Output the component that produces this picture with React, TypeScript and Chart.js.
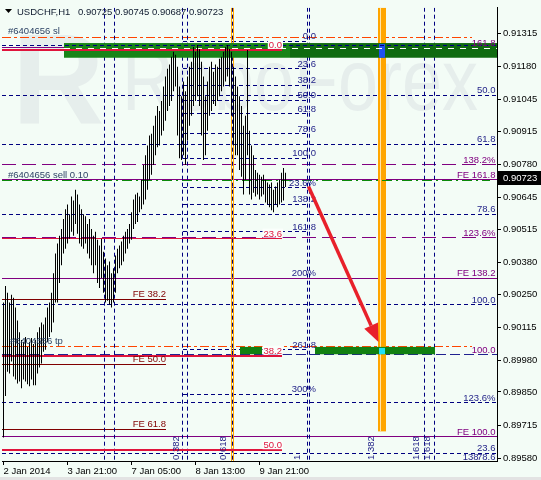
import React, { useEffect, useRef } from "react";
import { Chart, registerables } from "chart.js";

Chart.register(...registerables);

// ---------------- data ----------------
const xTickIndex = [0, 32, 64, 96, 128];
const xTickLabels = ["2 Jan 2014", "3 Jan 21:00", "7 Jan 05:00", "8 Jan 13:00", "9 Jan 21:00"];
const yTickValues = [0.91315, 0.9118, 0.91045, 0.90915, 0.9078, 0.90645, 0.90515, 0.9038, 0.9025, 0.90115, 0.8998, 0.8985, 0.89715, 0.8958];

const barHigh = [
  0.90215, 0.90283, 0.90255, 0.90215, 0.90247, 0.90235, 0.90195, 0.90142, 0.90094, 0.90062,
  0.90054, 0.90074, 0.90034, 0.90054, 0.9007, 0.90046, 0.90062, 0.90094, 0.90114, 0.90134,
  0.90126, 0.90154, 0.90195, 0.90215, 0.90255, 0.90335, 0.90415, 0.90456, 0.90488, 0.90516,
  0.90556, 0.90596, 0.90616, 0.90576, 0.90648, 0.90632, 0.90676, 0.90656, 0.90616, 0.90596,
  0.90576, 0.90568, 0.90536, 0.90556, 0.90516, 0.90488, 0.90504, 0.90472, 0.90448, 0.90476,
  0.90423, 0.90395, 0.90367, 0.90383, 0.90335, 0.90355, 0.90407, 0.90435, 0.90448, 0.90464,
  0.90488, 0.90504, 0.90516, 0.90536, 0.90584, 0.90636, 0.90656, 0.90664, 0.90648, 0.90717,
  0.90777, 0.90817, 0.90857, 0.90897, 0.90905, 0.90937, 0.90978, 0.91018, 0.90998, 0.91038,
  0.91098, 0.91138, 0.9117, 0.91187, 0.91219, 0.91239, 0.91227, 0.91178, 0.91098, 0.91058,
  0.91118, 0.91078, 0.91138, 0.91178, 0.91199, 0.91259, 0.91239, 0.91267, 0.91251, 0.91199,
  0.91138, 0.91058, 0.91118, 0.91178, 0.91199, 0.91158, 0.91187, 0.91178, 0.91211, 0.91219,
  0.91239, 0.91259, 0.91267, 0.91251, 0.91239, 0.91178, 0.91138, 0.91098, 0.91058, 0.91018,
  0.90937, 0.90978, 0.91247, 0.90917, 0.90857, 0.90817, 0.90757, 0.90745, 0.90737, 0.90729,
  0.90737, 0.90717, 0.90705, 0.90697, 0.90705, 0.90676, 0.90689, 0.90705, 0.90717, 0.90745,
  0.90765, 0.90745,
];
const barLow = [
  0.89664, 0.89833, 0.89933, 0.89925, 0.89974, 0.89913, 0.89901, 0.89885, 0.89893, 0.89865,
  0.89901, 0.89893, 0.89881, 0.89873, 0.89901, 0.89877, 0.89877, 0.89925, 0.8995, 0.89966,
  0.90014, 0.90022, 0.90054, 0.90074, 0.90094, 0.90134, 0.90215, 0.90215, 0.90295, 0.90367,
  0.90415, 0.90435, 0.90456, 0.90476, 0.90504, 0.90488, 0.90536, 0.90496, 0.90456, 0.90444,
  0.90435, 0.90456, 0.90415, 0.90395, 0.90367, 0.90335, 0.90367, 0.90295, 0.90275, 0.90315,
  0.90255, 0.90215, 0.90223, 0.90207, 0.90195, 0.90215, 0.90255, 0.90335, 0.90355, 0.90367,
  0.90383, 0.90415, 0.90435, 0.90456, 0.90472, 0.90516, 0.90536, 0.90544, 0.90584, 0.90596,
  0.90616, 0.90636, 0.90676, 0.90717, 0.90737, 0.90777, 0.90817, 0.90849, 0.90857, 0.90897,
  0.90917, 0.90958, 0.90998, 0.91018, 0.91038, 0.91078, 0.91098, 0.90897, 0.90805, 0.90797,
  0.90817, 0.90777, 0.90877, 0.90937, 0.90978, 0.91018, 0.91038, 0.91058, 0.91018, 0.90897,
  0.90797, 0.90817, 0.90917, 0.90978, 0.90998, 0.91026, 0.91018, 0.91038, 0.91058, 0.91078,
  0.91098, 0.91118, 0.91138, 0.91098, 0.90978, 0.90857, 0.90817, 0.90817, 0.90757, 0.90729,
  0.90656, 0.90717, 0.90817, 0.90656, 0.90636, 0.90664, 0.90648, 0.90656, 0.90636, 0.90648,
  0.90656, 0.90624, 0.90616, 0.90604, 0.90592, 0.90584, 0.90616, 0.90604, 0.90616, 0.90624,
  0.90632, 0.90687,
];

const symbolTitle = "USDCHF,H1";
const quoteTitle = "0.90725 0.90745 0.90687 0.90723";
const lastPrice = 0.90723;

// order lines: sl, sell, tp
const orderPrices = [0.91299, 0.90713, 0.90034];
const orderTexts = ["#6404656 sl", "#6404656 sell 0.10", "#6404656 tp"];

// full-width dotted levels (right fibo)
const dottedLevels = [0.91267, 0.91062, 0.90861, 0.90576, 0.90207, 0.89805, 0.896];
const dottedTexts = ["", "50.0", "61.8", "78.6", "100.0", "123.6%", "23.6"];

// left fibo (dotted, limited span)
const fiboLevels = [0.91283, 0.9117, 0.91102, 0.91042, 0.90986, 0.90905, 0.90805, 0.90685, 0.90616, 0.90504, 0.90315, 0.90022, 0.89841];
const fiboTexts = ["0.0", "23.6", "38.2", "50.0", "61.8", "78.6", "100.0", "23.6%", "138.2", "161.8", "200%", "261.8", "300%"];

// purple expansion
const purpleSolidLevels = [0.91255, 0.90717, 0.90315, 0.89668];
const purpleSolidTexts = ["161.8", "FE 161.8", "FE 138.2", "FE 100.0"];
const purpleDashLevels = [0.90777, 0.9048];
const purpleDashTexts = ["138.2%", "123.6%"];
const navyDashLevels = [0.90002];
const navyDashTexts = ["100.0"];

// maroon expansion
const maroonLevels = [0.90227, 0.89962, 0.89696];
const maroonTexts = ["FE 38.2", "FE 50.0", "FE 61.8"];

// crimson retracement
const crimsonLevels = [0.91247, 0.90476, 0.89998, 0.89612];
const crimsonTexts = ["0.0", "23.6", "38.2", "50.0"];

// time zones (bar index)
const timeLineBars = [50.5, 55.5, 89.5, 92, 114.5, 152, 153, 210.5, 215.5];
const orangeLineBars = [114, 115];
const orangeBandBar = 189.5;
const orangeBandLow = 0.89689;
const timeZoneBars = [86.25, 110, 147, 184, 206.5, 212];
const timeZoneTexts = ["0.382", "0.618", "1", "1.382", "1.618", "1.618"];

// zones
const topZone = [0.91275, 0.91215];
const topZoneBars = [30.25, 143.25, 247];
const bottomZone = [0.90034, 0.90004];
const bottomZoneBars = [[118.25, 129.25], [155.75, 215.75]];

// arrow
const arrowFrom = [152.5, 0.90689];
const arrowTo = [187.5, 0.90054];

const cornerTexts = ["138", "78.6"];
const cornerLevel = 0.89572;

// ---------------- styles ----------------
const FONT = "'Liberation Sans', Arial, sans-serif";
const BG = "#F3FCF6";
const NAVY = "#000080";
const NAVY_TXT = "#1E1E86";
const PURPLE = "#800080";
const MAROON = "#800000";
const CRIMSON = "#E0143C";
const ORANGERED = "#FF4500";
const ORANGE = "#FFA500";
const RED = "#E8202A";
const LABEL = "#2E4466";

function hLine(ctx: any, x1: number, x2: number, y: number, color: string, w: number, dash: number[]) {
  const yy = w % 2 === 1 ? Math.round(y - 0.5) + 0.5 : Math.round(y);
  ctx.beginPath();
  ctx.setLineDash(dash);
  ctx.strokeStyle = color;
  ctx.lineWidth = w;
  ctx.moveTo(x1, yy);
  ctx.lineTo(x2, yy);
  ctx.stroke();
}
function vLine(ctx: any, x: number, y1: number, y2: number, color: string, w: number, dash: number[]) {
  const xx = Math.round(x - 0.5) + 0.5;
  ctx.beginPath();
  ctx.setLineDash(dash);
  ctx.strokeStyle = color;
  ctx.lineWidth = w;
  ctx.moveTo(xx, y1);
  ctx.lineTo(xx, y2);
  ctx.stroke();
}

const overlay = {
  id: "overlay",
  beforeDraw(chart: any) {
    const { ctx, width, height } = chart;
    ctx.save();
    ctx.fillStyle = BG;
    ctx.fillRect(0, 0, width, height);
    ctx.fillStyle = "#E3E3E3";
    ctx.fillRect(0, 477, width, 3);
    ctx.restore();
  },
  beforeDatasetsDraw(chart: any) {
    const { ctx, chartArea: a, scales } = chart;
    const X = (i: number) => scales.x.getPixelForValue(i);
    const Y = (v: number) => scales.y.getPixelForValue(v);
    ctx.save();
    ctx.beginPath();
    ctx.rect(a.left, a.top, a.right - a.left, a.bottom - a.top);
    ctx.clip();

    // watermark
    ctx.fillStyle = "#E6EEEC";
    ctx.textBaseline = "alphabetic";
    ctx.textAlign = "left";
    ctx.font = `bold 128px ${FONT}`;
    ctx.fillText("R", 12, 124);
    ctx.font = `88px ${FONT}`;
    const wm = "RoboForex";
    const w = ctx.measureText(wm).width;
    ctx.save();
    ctx.translate(122, 110);
    ctx.scale(356 / w, 1);
    ctx.fillText(wm, 0, 0);
    ctx.restore();

    // full width dotted levels
    dottedLevels.forEach((v) => hLine(ctx, a.left, a.right, Y(v), NAVY, 1, [4, 3]));
    // left fibo
    fiboLevels.forEach((v) => hLine(ctx, X(89.75), X(152.25), Y(v), NAVY, 1, [4, 3]));
    // purple & navy long dash
    purpleSolidLevels.forEach((v) => hLine(ctx, a.left, a.right, Y(v), PURPLE, 1, []));
    purpleDashLevels.forEach((v) => hLine(ctx, a.left, a.right, Y(v), PURPLE, 1, [14, 6]));
    navyDashLevels.forEach((v) => hLine(ctx, a.left, a.right, Y(v), "#202090", 1, [10, 4]));
    // maroon
    maroonLevels.forEach((v) => hLine(ctx, a.left, X(81.25), Y(v), MAROON, 1, []));
    // SL / TP
    hLine(ctx, a.left, X(234.25), Y(orderPrices[0]), ORANGERED, 1, [9, 3, 3, 3]);
    hLine(ctx, a.left, X(234.25), Y(orderPrices[2]), ORANGERED, 1, [9, 3, 3, 3]);

    // vertical time lines
    timeLineBars.forEach((b) => vLine(ctx, X(b), a.top, a.bottom, NAVY, 1, [4, 3]));
    orangeLineBars.forEach((b) => vLine(ctx, X(b), a.top, a.bottom, ORANGE, 1, []));
    const oc = Math.floor(X(orangeBandBar));
    const oBottom = Y(orangeBandLow);
    ctx.fillStyle = ORANGE;
    ctx.fillRect(oc - 4, a.top, 8, oBottom - a.top);
    ctx.fillStyle = "#FFE3A8";
    ctx.fillRect(oc - 2, a.top, 1, oBottom - a.top);

    // zones
    const tz1 = Y(topZone[0]), tz2 = Y(topZone[1]);
    ctx.fillStyle = "#188418";
    ctx.fillRect(X(topZoneBars[0]), tz1, X(topZoneBars[1]) - X(topZoneBars[0]), tz2 - tz1);
    ctx.fillStyle = "#0F6A10";
    ctx.fillRect(X(topZoneBars[1]), tz1, X(topZoneBars[2]) - X(topZoneBars[1]), tz2 - tz1);
    const bz1 = Y(bottomZone[0]), bz2 = Y(bottomZone[1]);
    ctx.fillStyle = "#118011";
    bottomZoneBars.forEach(([s, e]) => ctx.fillRect(X(s), bz1, X(e) - X(s), bz2 - bz1));
    ctx.fillStyle = "#2050F0";
    ctx.fillRect(oc - 3, tz1 + 1, 6, tz2 - tz1 - 1);
    ctx.fillStyle = "#20E0F8";
    ctx.fillRect(oc - 3, bz1 + 1, 6, bz2 - bz1 - 1);

    // lines over top zone
    hLine(ctx, a.left, a.right, Y(dottedLevels[0]), NAVY, 1, [4, 3]);
    hLine(ctx, X(topZoneBars[0]), a.right, (tz1 + tz2) / 2 - 1.5, "#FFFFFF", 1, [6, 6]);

    // crimson retracement
    crimsonLevels.forEach((v, k) => hLine(ctx, a.left, X(139.25), Y(v), CRIMSON, k === 1 ? 1 : 2, []));
    // sell order line
    hLine(ctx, a.left, X(243.25), Y(orderPrices[1]), "#0A8A0A", 1, [10, 4, 2, 4]);
    ctx.restore();
  },
  afterDatasetsDraw(chart: any) {
    const { ctx, chartArea: a, scales } = chart;
    const X = (i: number) => scales.x.getPixelForValue(i);
    const Y = (v: number) => scales.y.getPixelForValue(v);
    ctx.save();
    ctx.setLineDash([]);
    ctx.font = `9.5px ${FONT}`;
    ctx.textBaseline = "alphabetic";

    // right-aligned level labels
    ctx.textAlign = "right";
    ctx.fillStyle = NAVY_TXT;
    fiboLevels.forEach((v, k) => ctx.fillText(fiboTexts[k], X(156.25), Y(v) - 2));
    dottedLevels.forEach((v, k) => dottedTexts[k] && ctx.fillText(dottedTexts[k], X(246), Y(v) - 2));
    ctx.fillText(cornerTexts[1], X(246), Y(cornerLevel));
    ctx.fillText(cornerTexts[0], X(237.5), Y(cornerLevel));
    ctx.fillStyle = PURPLE;
    purpleSolidLevels.forEach((v, k) => ctx.fillText(purpleSolidTexts[k], X(246), Y(v) - 2));
    purpleDashLevels.forEach((v, k) => ctx.fillText(purpleDashTexts[k], X(246), Y(v) - 2));
    navyDashLevels.forEach((v, k) => ctx.fillText(navyDashTexts[k], X(246), Y(v) - 2));
    ctx.fillStyle = MAROON;
    maroonLevels.forEach((v, k) => ctx.fillText(maroonTexts[k], X(81.25), Y(v) - 3));
    crimsonLevels.forEach((v, k) => {
      const t = crimsonTexts[k];
      const tw = ctx.measureText(t).width;
      const x = X(139.25);
      const y = Y(v) - 2;
      ctx.fillStyle = "#FAFFFC";
      ctx.fillRect(x - tw - 1, y - 8, tw + 2, 9);
      ctx.fillStyle = CRIMSON;
      ctx.fillText(t, x, y);
    });

    // order labels
    ctx.textAlign = "left";
    ctx.fillStyle = LABEL;
    orderPrices.forEach((v, k) => ctx.fillText(orderTexts[k], X(k === 2 ? 3.25 : 2.25), Y(v) - 3));

    // time zone labels (rotated)
    ctx.fillStyle = NAVY_TXT;
    timeZoneBars.forEach((b, k) => {
      ctx.save();
      ctx.translate(X(b), a.bottom - 1);
      ctx.rotate(-Math.PI / 2);
      ctx.textAlign = "left";
      ctx.textBaseline = "middle";
      ctx.fillText(timeZoneTexts[k], 0, 0);
      ctx.restore();
    });

    // arrow
    const x1 = X(arrowFrom[0]), y1 = Y(arrowFrom[1]);
    const x2 = X(arrowTo[0]), y2 = Y(arrowTo[1]);
    const ang = Math.atan2(y2 - y1, x2 - x1);
    const hl = 18, hw = 7.5;
    const bx = x2 - hl * Math.cos(ang), by = y2 - hl * Math.sin(ang);
    ctx.strokeStyle = RED;
    ctx.lineWidth = 3.5;
    ctx.beginPath();
    ctx.moveTo(x1, y1);
    ctx.lineTo(bx, by);
    ctx.stroke();
    ctx.fillStyle = RED;
    ctx.beginPath();
    ctx.moveTo(x2, y2);
    ctx.lineTo(bx + hw * Math.sin(ang), by - hw * Math.cos(ang));
    ctx.lineTo(bx - hw * Math.sin(ang), by + hw * Math.cos(ang));
    ctx.closePath();
    ctx.fill();

    // header
    ctx.fillStyle = "#000";
    ctx.beginPath();
    ctx.moveTo(5, 9);
    ctx.lineTo(12, 9);
    ctx.lineTo(8.5, 13);
    ctx.closePath();
    ctx.fill();
    ctx.fillStyle = "#0E1A2E";
    ctx.textAlign = "left";
    ctx.textBaseline = "alphabetic";
    ctx.fillText(symbolTitle, 17, 15);
    ctx.fillText(quoteTitle, 78, 15);
    ctx.restore();
  },
  afterDraw(chart: any) {
    const { ctx, chartArea: a, scales } = chart;
    const y = Math.round(scales.y.getPixelForValue(lastPrice));
    ctx.save();
    ctx.fillStyle = "#000";
    ctx.fillRect(a.right + 1, y - 7, 44, 14);
    ctx.fillStyle = "#FFF";
    ctx.font = `9.5px ${FONT}`;
    ctx.textAlign = "left";
    ctx.textBaseline = "middle";
    ctx.fillText(lastPrice.toFixed(5), a.right + 6, y);
    ctx.restore();
  },
};

export default function App() {
  const ref = useRef<HTMLCanvasElement>(null);
  useEffect(() => {
    const canvas = ref.current as HTMLCanvasElement;
    const bars = barHigh.map((h, i) => ({ x: i, y: [barLow[i], h] }));
    const chart = new Chart(canvas, {
      type: "bar",
      data: {
        datasets: [
          {
            data: bars as any,
            backgroundColor: "#000",
            borderWidth: 0,
            barThickness: 1,
            inflateAmount: 0,
          },
        ],
      },
      options: {
        responsive: false,
        animation: false,
        devicePixelRatio: 1,
        layout: { padding: { left: 2, top: 0, right: 0, bottom: 0 } },
        plugins: { legend: { display: false }, tooltip: { enabled: false } },
        scales: {
          x: {
            type: "linear",
            min: -0.75,
            max: 246.75,
            offset: false,
            afterBuildTicks: (s: any) => {
              s.ticks = xTickIndex.map((v) => ({ value: v }));
            },
            afterFit: (s: any) => {
              s.height = 19;
            },
            grid: { drawOnChartArea: false, tickLength: 4, color: "#000", offset: false },
            border: { color: "#000" },
            ticks: {
              align: "start",
              maxRotation: 0,
              autoSkip: false,
              padding: 1,
              color: "#000",
              font: { family: FONT, size: 9.5 },
              callback: (v: any) => {
                const k = xTickIndex.indexOf(Number(v));
                return k >= 0 ? xTickLabels[k] : "";
              },
            },
          },
          y: {
            position: "right",
            min: 0.89568,
            max: 0.914194,
            afterBuildTicks: (s: any) => {
              s.ticks = yTickValues.map((v) => ({ value: v }));
            },
            afterFit: (s: any) => {
              s.width = 44;
            },
            grid: { drawOnChartArea: false, tickLength: 4, color: "#000" },
            border: { color: "#000" },
            ticks: {
              padding: 2,
              color: "#000",
              font: { family: FONT, size: 9.5 },
              callback: (v: any) => Number(v).toFixed(5),
            },
          },
        },
      } as any,
      plugins: [overlay],
    });
    return () => chart.destroy();
  }, []);
  return (
    <canvas
      ref={ref}
      width={541}
      height={480}
      style={{ position: "fixed", left: 0, top: 0, width: 541, height: 480 }}
    />
  );
}
